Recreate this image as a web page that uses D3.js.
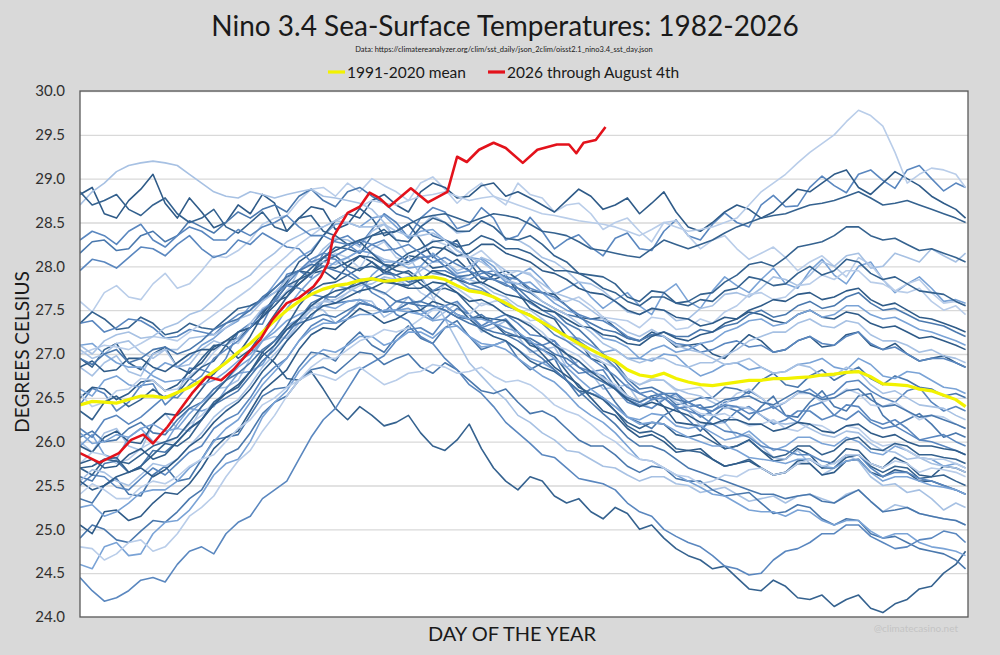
<!DOCTYPE html>
<html>
<head>
<meta charset="utf-8">
<script src="https://cdn.jsdelivr.net/npm/d3@7"></script>
<style>
  body { margin: 0; background: #d9d9d9; }
  svg { display: block; font-family: Lato, "Open Sans", sans-serif; }
</style>
</head>
<body>
<svg id="drawing_region"></svg>
<script>
// sample days (every 5 days + end of year)
const days = [1,6,11,16,21,26,31,36,41,46,51,56,61,66,71,76,81,86,91,96,101,106,111,116,121,126,131,136,141,146,151,156,161,166,171,176,181,186,191,196,201,206,211,216,221,226,231,236,241,246,251,256,261,266,271,276,281,286,291,296,301,306,311,316,321,326,331,336,341,346,351,356,361,365];

const years = [1982,1983,1984,1985,1986,1987,1988,1989,1990,1991,1992,1993,1994,1995,1996,1997,1998,1999,2000,2001,2002,2003,2004,2005,2006,2007,2008,2009,2010,2011,2012,2013,2014,2015,2016,2017,2018,2019,2020,2021,2022,2023,2024,2025];

// one row per year
const yearValues = [
  [26.42,26.61,26.55,26.35,26.45,26.64,26.66,26.42,26.55,26.84,26.82,26.77,26.95,27.25,27.35,27.34,27.62,27.91,27.95,27.87,28.15,28.30,28.35,28.24,28.42,28.60,28.50,28.33,28.55,28.67,28.62,28.43,28.48,28.67,28.55,28.30,28.35,28.56,28.40,28.20,28.30,28.36,28.22,28.12,28.32,28.38,28.20,28.18,28.40,28.53,28.35,28.30,28.48,28.61,28.50,28.45,28.70,28.81,28.68,28.69,28.90,29.03,28.92,28.84,29.05,29.10,28.98,28.89,29.10,29.15,29.00,28.86,28.95,28.90],
  [28.82,28.90,28.60,28.55,28.75,28.88,29.05,28.72,28.55,28.78,28.62,28.44,28.50,28.70,28.60,28.82,28.72,28.40,28.55,28.68,28.65,28.42,28.48,28.66,28.55,28.35,28.40,28.48,28.30,28.10,28.22,28.30,28.05,27.86,27.85,27.90,27.70,27.52,27.45,27.40,27.20,27.15,26.95,26.90,26.70,26.52,26.45,26.52,26.40,26.22,26.20,26.18,26.05,25.92,25.95,26.02,25.90,25.78,25.80,25.92,25.85,25.70,25.78,25.92,25.90,25.75,25.70,25.82,25.75,25.62,25.60,25.72,25.70,25.65],
  [26.00,25.88,26.10,26.15,25.95,25.90,26.20,26.32,26.15,26.12,26.40,26.60,26.62,26.70,26.95,27.15,27.20,27.18,27.35,27.55,27.50,27.35,27.45,27.62,27.60,27.42,27.50,27.65,27.55,27.38,27.48,27.58,27.45,27.25,27.30,27.38,27.20,27.02,27.05,27.08,26.85,26.92,26.78,26.60,26.62,26.65,26.45,26.38,26.50,26.52,26.35,26.18,26.20,26.22,26.05,26.08,25.95,25.82,25.80,25.90,25.75,25.62,25.70,25.85,25.78,25.60,25.50,25.52,25.42,25.45,25.35,25.22,25.30,25.25],
  [25.35,25.30,25.50,25.58,25.40,25.38,25.62,25.72,25.55,25.58,25.80,26.02,26.05,26.08,26.30,26.52,26.60,26.62,26.85,27.02,27.00,26.92,27.12,27.25,27.10,27.02,27.20,27.32,27.18,27.12,27.30,27.38,27.20,27.05,27.10,27.15,26.95,26.82,26.90,26.95,26.70,26.52,26.60,26.65,26.45,26.28,26.22,26.15,26.30,26.38,26.25,26.12,26.28,26.40,26.35,26.25,26.40,26.52,26.30,26.28,26.45,26.58,26.40,26.35,26.52,26.55,26.30,26.18,26.25,26.32,26.20,26.05,26.10,26.05],
  [25.95,26.08,25.85,25.80,26.05,26.15,26.00,25.98,26.20,26.38,26.35,26.40,26.60,26.78,26.80,26.88,27.10,27.32,27.40,27.42,27.60,27.78,27.75,27.70,27.90,28.02,27.85,27.78,28.00,28.15,28.05,27.92,27.95,28.10,28.00,27.82,27.90,27.98,27.85,27.68,27.75,27.82,27.65,27.52,27.62,27.70,27.55,27.45,27.70,27.80,27.60,27.52,27.72,27.88,27.78,27.70,27.85,27.98,27.80,27.75,27.95,28.08,27.90,27.80,28.00,28.05,27.85,27.70,27.80,27.88,27.75,27.60,27.62,27.58],
  [27.60,27.48,27.70,27.78,27.65,27.62,27.80,27.92,27.75,27.80,27.95,28.12,28.10,28.18,28.30,28.48,28.55,28.58,28.75,28.88,28.90,28.80,28.95,28.85,29.00,28.92,28.85,28.75,28.95,29.02,28.88,28.72,28.85,28.95,28.80,28.70,28.95,28.82,28.78,28.62,28.70,28.72,28.60,28.42,28.50,28.55,28.40,28.28,28.50,28.52,28.35,28.20,28.30,28.35,28.20,28.08,28.15,28.22,28.10,27.95,28.05,28.12,28.00,27.88,28.10,28.02,27.85,27.72,27.80,27.85,27.70,27.58,27.60,27.55],
  [26.95,26.85,27.05,27.12,26.90,26.82,27.00,27.08,26.85,26.78,26.95,27.10,27.10,26.95,27.05,27.02,26.90,26.72,26.70,26.80,26.60,26.38,26.25,26.40,26.30,26.18,26.22,26.30,26.10,25.95,25.90,26.02,26.20,25.92,25.70,25.55,25.45,25.60,25.55,25.38,25.30,25.35,25.20,25.12,25.25,25.18,25.00,25.05,24.90,24.78,24.70,24.65,24.55,24.58,24.45,24.32,24.30,24.42,24.35,24.22,24.20,24.25,24.12,24.20,24.25,24.10,24.05,24.15,24.20,24.32,24.35,24.50,24.60,24.75],
  [24.45,24.30,24.18,24.22,24.30,24.42,24.45,24.40,24.60,24.75,24.80,24.72,24.95,25.08,25.15,25.35,25.45,25.55,25.80,26.05,26.25,26.38,26.60,26.82,26.90,26.98,27.15,27.28,27.30,27.22,27.40,27.52,27.45,27.30,27.35,27.40,27.25,27.12,27.10,27.15,26.90,26.78,26.80,26.82,26.62,26.48,26.42,26.38,26.48,26.55,26.40,26.28,26.35,26.45,26.48,26.58,26.50,26.38,26.45,26.55,26.60,26.50,26.55,26.68,26.70,26.58,26.50,26.45,26.58,26.62,26.45,26.35,26.40,26.35],
  [26.50,26.62,26.60,26.48,26.55,26.68,26.70,26.58,26.65,26.80,26.90,27.08,27.15,27.18,27.30,27.48,27.60,27.65,27.80,27.92,27.95,27.85,28.00,28.12,28.05,27.92,28.00,28.12,28.10,27.98,28.00,28.08,27.95,27.80,27.90,27.95,27.85,27.72,27.70,27.68,27.55,27.42,27.40,27.42,27.30,27.18,27.15,27.25,27.20,27.08,27.10,27.12,27.00,26.95,27.10,27.22,27.15,27.02,27.05,27.15,27.20,27.08,27.10,27.22,27.25,27.10,27.05,27.12,27.00,26.92,26.95,26.98,26.90,26.85],
  [26.85,26.75,26.90,26.98,26.80,26.75,27.00,27.05,26.85,26.88,27.05,27.15,27.10,27.18,27.35,27.52,27.60,27.70,27.95,28.02,28.20,28.32,28.30,28.22,28.40,28.48,28.30,28.28,28.45,28.58,28.50,28.38,28.40,28.52,28.45,28.32,28.30,28.22,28.10,28.05,27.95,27.82,27.80,27.72,27.60,27.48,27.45,27.52,27.50,27.38,27.40,27.52,27.55,27.68,27.70,27.65,27.75,27.88,27.85,27.78,27.90,28.05,28.00,28.12,28.15,27.98,28.00,28.15,28.10,28.05,28.20,28.12,28.05,28.15],
  [28.15,28.28,28.30,28.18,28.20,28.35,28.40,28.28,28.35,28.52,28.45,28.38,28.50,28.62,28.55,28.65,28.70,28.62,28.80,28.88,28.75,28.68,28.85,28.90,28.80,28.72,28.60,28.55,28.45,28.35,28.30,28.25,28.10,27.95,27.90,27.88,27.75,27.62,27.55,27.48,27.35,27.28,27.15,27.00,26.90,26.72,26.60,26.62,26.55,26.42,26.45,26.50,26.50,26.62,26.60,26.55,26.70,26.78,26.65,26.62,26.75,26.82,26.70,26.78,26.85,26.72,26.65,26.75,26.70,26.62,26.60,26.52,26.55,26.50],
  [26.60,26.52,26.70,26.75,26.65,26.62,26.80,26.90,26.85,26.95,27.10,27.18,27.30,27.38,27.55,27.62,27.80,27.98,28.10,28.18,28.35,28.48,28.50,28.45,28.55,28.58,28.45,28.32,28.40,28.42,28.30,28.18,28.10,28.08,27.95,27.82,27.80,27.82,27.70,27.58,27.50,27.45,27.30,27.18,27.15,27.08,26.95,26.92,27.00,26.98,26.85,26.75,26.80,26.88,26.90,26.82,26.85,26.78,26.80,26.88,26.90,26.95,26.85,26.82,26.95,26.88,26.75,26.72,26.80,26.78,26.70,26.62,26.60,26.55],
  [26.55,26.40,26.45,26.58,26.60,26.72,26.70,26.58,26.60,26.75,26.85,27.02,27.15,27.12,27.30,27.45,27.55,27.72,27.85,27.90,28.05,28.15,28.10,27.98,28.20,28.28,28.10,28.05,28.15,28.30,28.25,28.12,28.10,28.18,28.05,27.90,27.95,27.92,27.75,27.62,27.60,27.65,27.55,27.42,27.40,27.38,27.30,27.42,27.40,27.28,27.30,27.40,27.35,27.48,27.55,27.68,27.70,27.62,27.65,27.78,27.80,27.90,27.85,27.95,27.95,27.82,27.80,27.72,27.70,27.75,27.60,27.50,27.55,27.45],
  [27.35,27.48,27.40,27.28,27.30,27.42,27.35,27.22,27.25,27.35,27.30,27.28,27.40,27.52,27.55,27.62,27.75,27.88,27.95,27.92,28.05,28.12,28.00,27.95,28.05,27.95,27.90,27.95,27.85,27.72,27.75,27.70,27.55,27.42,27.40,27.38,27.25,27.10,27.05,26.98,26.80,26.62,26.55,26.50,26.35,26.18,26.10,26.12,26.05,25.92,25.90,25.88,25.80,25.72,25.75,25.80,25.70,25.62,25.65,25.78,25.80,25.70,25.70,25.82,25.85,25.72,25.65,25.72,25.70,25.58,25.60,25.62,25.55,25.50],
  [25.50,25.62,25.60,25.48,25.45,25.58,25.70,25.62,25.75,25.88,25.95,26.15,26.25,26.32,26.50,26.72,26.85,26.95,27.15,27.32,27.40,27.35,27.45,27.58,27.55,27.48,27.60,27.65,27.50,27.40,27.55,27.60,27.45,27.32,27.40,27.45,27.35,27.22,27.20,27.15,27.00,26.85,26.80,26.75,26.60,26.45,26.40,26.48,26.50,26.38,26.40,26.42,26.30,26.22,26.35,26.40,26.30,26.20,26.25,26.35,26.35,26.25,26.30,26.42,26.40,26.25,26.20,26.25,26.15,26.02,26.05,26.08,26.00,25.95],
  [25.95,25.88,26.05,26.12,26.00,25.98,26.20,26.32,26.30,26.42,26.60,26.78,26.90,27.00,27.20,27.45,27.65,27.82,28.05,28.15,28.35,28.52,28.60,28.55,28.75,28.82,28.70,28.62,28.85,28.95,28.90,28.78,28.80,28.92,28.95,28.80,28.85,28.78,28.70,28.62,28.75,28.88,28.80,28.65,28.70,28.78,28.60,28.72,28.85,28.62,28.45,28.40,28.50,28.62,28.70,28.65,28.55,28.62,28.75,28.88,28.85,28.95,29.05,29.10,28.90,28.82,28.95,29.08,29.00,28.92,28.80,28.72,28.65,28.55],
  [28.70,28.85,28.95,29.08,29.15,29.18,29.20,29.18,29.15,29.05,28.95,28.85,28.80,28.78,28.85,28.82,28.78,28.82,28.85,28.88,28.80,28.78,28.75,28.72,28.65,28.50,28.30,28.12,27.90,27.65,27.40,27.15,26.90,26.75,26.60,26.48,26.30,26.22,26.10,26.02,25.90,25.88,25.80,25.72,25.70,25.62,25.55,25.60,25.60,25.52,25.50,25.42,25.45,25.48,25.40,25.32,25.35,25.38,25.30,25.38,25.40,25.35,25.30,25.40,25.45,25.32,25.20,25.28,25.25,25.18,25.15,25.12,25.10,25.05],
  [24.90,25.05,25.00,24.88,24.85,24.98,25.10,25.08,25.20,25.35,25.45,25.68,25.85,25.92,26.10,26.32,26.45,26.52,26.70,26.82,26.85,26.78,26.90,27.02,27.00,26.88,26.95,27.00,26.85,26.78,26.90,26.82,26.70,26.58,26.55,26.60,26.45,26.32,26.35,26.28,26.15,26.02,25.95,25.95,25.85,25.72,25.65,25.72,25.70,25.58,25.55,25.55,25.45,25.38,25.40,25.42,25.30,25.18,25.20,25.28,25.25,25.12,25.05,25.12,25.10,24.95,24.90,24.92,24.85,24.78,24.75,24.72,24.65,24.55],
  [24.60,24.55,24.80,24.85,24.70,24.72,24.95,25.08,25.10,25.22,25.40,25.62,25.75,25.80,26.00,26.28,26.45,26.58,26.80,26.95,27.05,27.02,27.10,27.20,27.20,27.10,27.15,27.25,27.25,27.18,27.30,27.32,27.20,27.08,27.10,27.15,27.05,26.95,26.90,26.82,26.70,26.58,26.55,26.50,26.40,26.28,26.25,26.32,26.30,26.18,26.15,26.18,26.10,26.02,26.05,26.12,26.00,25.90,25.95,26.05,26.05,25.98,25.95,26.05,26.00,25.88,25.85,25.95,25.90,25.82,25.80,25.72,25.75,25.70],
  [25.75,25.88,25.85,25.75,25.80,25.92,26.00,25.98,26.05,26.20,26.30,26.45,26.55,26.62,26.80,26.98,27.10,27.22,27.40,27.55,27.60,27.58,27.70,27.82,27.75,27.68,27.80,27.85,27.70,27.62,27.80,27.75,27.65,27.55,27.60,27.62,27.50,27.38,27.40,27.30,27.15,27.10,27.00,26.90,26.85,26.72,26.65,26.72,26.70,26.58,26.60,26.62,26.50,26.42,26.55,26.60,26.50,26.40,26.45,26.55,26.55,26.45,26.50,26.60,26.55,26.42,26.40,26.45,26.35,26.25,26.30,26.28,26.20,26.15],
  [26.35,26.25,26.45,26.52,26.40,26.48,26.60,26.50,26.55,26.72,26.85,26.92,27.10,27.25,27.30,27.42,27.60,27.78,27.85,27.92,28.10,28.22,28.20,28.15,28.35,28.42,28.30,28.28,28.45,28.55,28.50,28.40,28.40,28.52,28.45,28.32,28.30,28.35,28.25,28.12,28.05,27.92,27.90,27.88,27.80,27.65,27.60,27.72,27.70,27.58,27.55,27.62,27.60,27.72,27.75,27.88,27.85,27.78,27.80,27.92,28.00,27.90,27.95,28.08,28.05,27.92,27.85,27.88,27.80,27.72,27.70,27.68,27.60,27.55],
  [27.35,27.38,27.25,27.30,27.40,27.38,27.30,27.18,27.20,27.28,27.25,27.22,27.35,27.45,27.50,27.62,27.70,27.78,27.75,27.68,27.65,27.58,27.60,27.62,27.55,27.48,27.50,27.58,27.60,27.72,27.80,27.88,27.85,27.92,27.95,27.88,27.85,27.75,27.70,27.65,27.55,27.45,27.40,27.38,27.30,27.20,27.15,27.22,27.20,27.12,27.10,27.02,27.05,27.12,27.15,27.08,27.10,27.02,27.05,27.15,27.20,27.12,27.10,27.20,27.25,27.12,27.05,27.08,27.00,26.92,26.95,26.95,26.90,26.85],
  [26.85,26.92,26.80,26.82,26.95,26.95,26.85,26.80,26.90,27.00,27.05,27.05,27.15,27.25,27.30,27.42,27.55,27.70,27.80,27.92,28.00,27.98,28.05,28.12,28.10,28.02,28.00,28.05,28.15,28.22,28.20,28.12,28.15,28.25,28.25,28.15,28.10,28.05,27.95,27.92,27.85,27.75,27.70,27.68,27.60,27.50,27.45,27.52,27.50,27.42,27.40,27.32,27.35,27.42,27.40,27.48,27.45,27.38,27.35,27.45,27.50,27.42,27.40,27.48,27.45,27.35,27.30,27.32,27.25,27.18,27.20,27.15,27.10,27.05],
  [27.05,26.95,27.00,27.12,27.15,27.02,26.95,27.05,27.05,27.18,27.20,27.22,27.30,27.40,27.45,27.60,27.70,27.85,27.95,28.05,28.05,28.02,28.10,28.18,28.15,28.08,28.05,28.02,28.10,28.12,28.00,27.90,27.85,27.80,27.70,27.65,27.55,27.50,27.40,27.28,27.20,27.12,27.00,26.95,26.85,26.72,26.65,26.70,26.70,26.60,26.55,26.52,26.45,26.38,26.40,26.38,26.30,26.22,26.20,26.22,26.15,26.08,26.05,26.12,26.10,25.98,25.90,25.88,25.80,25.82,25.75,25.72,25.70,25.65],
  [25.60,25.55,25.75,25.78,25.65,25.72,25.90,25.88,26.00,26.15,26.25,26.42,26.50,26.58,26.75,26.92,27.05,27.22,27.40,27.58,27.65,27.65,27.75,27.85,27.85,27.92,27.90,27.82,27.85,27.95,27.95,27.88,27.90,27.95,27.85,27.78,27.75,27.70,27.60,27.52,27.45,27.42,27.35,27.28,27.25,27.18,27.15,27.22,27.25,27.20,27.20,27.28,27.25,27.32,27.35,27.45,27.50,27.42,27.45,27.55,27.60,27.52,27.55,27.65,27.70,27.58,27.50,27.52,27.45,27.38,27.35,27.32,27.25,27.20],
  [27.10,27.12,27.00,26.90,26.85,26.85,26.75,26.68,26.70,26.72,26.65,26.70,26.80,26.92,27.00,27.15,27.25,27.38,27.45,27.52,27.55,27.52,27.60,27.62,27.55,27.48,27.50,27.52,27.45,27.38,27.40,27.32,27.20,27.12,27.10,27.05,26.95,26.85,26.75,26.68,26.55,26.40,26.30,26.22,26.10,25.95,25.80,25.78,25.70,25.62,25.55,25.48,25.40,25.38,25.30,25.22,25.20,25.20,25.15,25.22,25.20,25.10,25.05,25.10,25.10,24.98,24.90,24.95,24.95,24.85,24.80,24.78,24.75,24.70],
  [24.80,24.78,24.65,24.72,24.85,24.88,24.75,24.80,24.95,25.15,25.25,25.38,25.60,25.78,25.90,26.12,26.30,26.52,26.70,26.85,26.95,26.95,27.05,27.15,27.20,27.28,27.25,27.30,27.40,27.50,27.50,27.42,27.45,27.58,27.55,27.45,27.40,27.35,27.25,27.10,27.05,26.98,26.85,26.72,26.65,26.52,26.45,26.52,26.55,26.45,26.40,26.32,26.30,26.32,26.25,26.18,26.20,26.25,26.15,26.12,26.20,26.18,26.10,26.18,26.15,26.02,25.95,25.98,25.90,25.82,25.80,25.80,25.75,25.70],
  [25.70,25.62,25.80,25.82,25.65,25.72,25.85,25.98,25.95,26.05,26.25,26.45,26.55,26.62,26.80,27.02,27.15,27.32,27.55,27.72,27.80,27.82,27.90,27.98,28.00,27.95,28.05,28.15,28.20,28.28,28.30,28.22,28.25,28.35,28.30,28.20,28.20,28.15,28.05,27.95,27.95,27.92,27.85,27.75,27.70,27.60,27.55,27.65,27.65,27.58,27.60,27.68,27.70,27.82,27.90,28.02,28.05,28.00,28.10,28.22,28.25,28.28,28.35,28.45,28.45,28.35,28.30,28.32,28.25,28.18,28.20,28.15,28.10,28.05],
  [27.95,28.08,28.05,27.98,28.10,28.22,28.20,28.12,28.25,28.35,28.20,28.10,28.15,28.30,28.25,28.38,28.30,28.22,28.20,28.05,28.10,28.08,27.95,27.85,27.70,27.62,27.45,27.38,27.20,27.12,26.95,26.82,26.65,26.55,26.40,26.22,26.10,25.98,25.85,25.82,25.70,25.58,25.55,25.52,25.45,25.30,25.20,25.15,25.00,24.92,24.85,24.80,24.70,24.58,24.55,24.48,24.50,24.65,24.75,24.78,24.85,24.95,24.95,25.05,25.05,24.92,24.85,24.78,24.80,24.88,24.90,24.98,24.95,24.85],
  [25.05,24.95,25.20,25.22,25.10,25.15,25.30,25.42,25.40,25.52,25.70,25.92,26.05,26.12,26.35,26.58,26.70,26.82,27.05,27.22,27.30,27.28,27.40,27.52,27.45,27.35,27.40,27.48,27.50,27.60,27.55,27.45,27.40,27.42,27.35,27.22,27.20,27.15,27.00,26.85,26.75,26.65,26.50,26.35,26.30,26.15,26.05,26.08,26.00,25.88,25.90,25.92,25.80,25.72,25.75,25.78,25.70,25.62,25.65,25.75,25.75,25.62,25.65,25.78,25.80,25.65,25.60,25.68,25.65,25.55,25.55,25.50,25.45,25.40],
  [25.55,25.68,25.65,25.55,25.50,25.62,25.75,25.72,25.80,25.95,26.10,26.28,26.40,26.48,26.65,26.85,27.00,27.15,27.35,27.50,27.60,27.62,27.70,27.78,27.80,27.88,27.85,27.88,27.95,28.05,28.05,27.95,28.00,28.10,28.05,27.95,27.95,27.90,27.80,27.70,27.65,27.60,27.50,27.40,27.35,27.25,27.20,27.28,27.20,27.10,27.05,27.02,26.95,26.88,26.90,26.95,26.85,26.78,26.80,26.88,26.85,26.75,26.75,26.85,26.80,26.65,26.55,26.58,26.50,26.42,26.40,26.38,26.30,26.25],
  [26.05,26.12,26.00,26.02,26.15,26.22,26.10,26.08,26.25,26.38,26.45,26.60,26.70,26.78,26.90,27.05,27.15,27.28,27.35,27.40,27.45,27.42,27.50,27.58,27.55,27.48,27.50,27.58,27.60,27.55,27.50,27.42,27.40,27.45,27.35,27.25,27.20,27.18,27.10,27.00,26.95,26.85,26.75,26.68,26.60,26.50,26.45,26.52,26.55,26.48,26.45,26.38,26.40,26.48,26.50,26.52,26.45,26.42,26.50,26.58,26.55,26.48,26.50,26.58,26.60,26.48,26.40,26.42,26.35,26.28,26.30,26.25,26.20,26.15],
  [26.10,25.98,26.00,26.08,26.05,26.15,26.20,26.12,26.15,26.32,26.45,26.55,26.70,26.85,26.95,27.15,27.30,27.52,27.70,27.85,27.95,28.05,28.10,28.18,28.15,28.05,28.05,27.98,28.00,27.92,27.90,27.85,27.75,27.72,27.65,27.55,27.50,27.45,27.35,27.30,27.20,27.18,27.10,27.02,27.05,26.95,26.95,27.05,27.10,27.02,27.05,27.12,27.15,27.25,27.30,27.38,27.40,27.32,27.35,27.45,27.50,27.42,27.45,27.55,27.55,27.45,27.40,27.42,27.35,27.28,27.25,27.20,27.15,27.10],
  [27.00,27.05,27.10,27.08,27.05,27.12,27.20,27.18,27.15,27.25,27.35,27.45,27.55,27.65,27.75,27.88,28.00,28.12,28.25,28.35,28.45,28.52,28.60,28.68,28.75,28.72,28.70,28.75,28.80,28.82,28.85,28.80,28.75,28.78,28.80,28.75,28.70,28.65,28.60,28.58,28.55,28.52,28.50,28.48,28.45,28.40,28.35,28.42,28.50,28.45,28.40,28.42,28.45,28.50,28.55,28.70,28.85,28.95,29.05,29.18,29.30,29.40,29.50,29.65,29.78,29.72,29.60,29.30,28.95,29.05,29.12,29.10,29.05,28.90],
  [28.85,28.70,28.75,28.82,28.65,28.58,28.70,28.78,28.60,28.50,28.55,28.65,28.45,28.38,28.50,28.62,28.45,28.40,28.55,28.58,28.40,28.35,28.25,28.28,28.15,28.02,27.95,27.92,27.80,27.70,27.60,27.55,27.40,27.28,27.20,27.15,27.05,26.92,26.85,26.80,26.70,26.58,26.55,26.48,26.35,26.22,26.15,26.22,26.20,26.08,26.05,26.08,26.00,25.92,25.95,26.02,25.90,25.82,25.85,25.95,25.95,25.85,25.90,26.02,26.05,25.92,25.90,25.98,25.95,25.85,25.85,25.82,25.80,25.75],
  [26.15,26.05,26.25,26.30,26.20,26.28,26.40,26.52,26.50,26.65,26.75,26.95,27.05,27.15,27.30,27.50,27.60,27.80,27.95,28.08,28.15,28.12,28.20,28.30,28.25,28.18,28.20,28.25,28.15,28.05,28.10,28.02,27.95,27.88,27.85,27.80,27.70,27.58,27.50,27.42,27.30,27.15,27.05,26.98,26.85,26.68,26.55,26.58,26.50,26.40,26.35,26.30,26.20,26.12,26.10,26.05,25.95,25.92,25.90,25.85,25.85,25.78,25.75,25.85,25.85,25.70,25.60,25.65,25.65,25.58,25.55,25.50,25.45,25.40],
  [25.55,25.45,25.50,25.60,25.65,25.70,25.60,25.68,25.80,25.95,26.05,26.22,26.35,26.45,26.60,26.80,26.95,27.15,27.30,27.45,27.55,27.58,27.65,27.72,27.75,27.82,27.80,27.78,27.85,27.95,27.90,27.85,27.80,27.82,27.75,27.68,27.65,27.60,27.50,27.48,27.40,27.32,27.30,27.22,27.20,27.12,27.10,27.20,27.25,27.18,27.15,27.22,27.25,27.35,27.40,27.50,27.55,27.62,27.60,27.68,27.70,27.62,27.65,27.72,27.75,27.62,27.55,27.58,27.50,27.42,27.40,27.35,27.30,27.25],
  [27.10,27.00,27.15,27.22,27.25,27.18,27.20,27.30,27.35,27.45,27.50,27.62,27.75,27.82,27.90,28.05,28.15,28.28,28.35,28.42,28.45,28.52,28.50,28.45,28.45,28.48,28.40,28.35,28.35,28.38,28.30,28.18,28.10,28.05,27.95,27.85,27.80,27.72,27.60,27.52,27.45,27.35,27.25,27.12,27.05,26.95,26.90,26.95,26.95,26.88,26.85,26.90,26.90,26.98,27.05,27.15,27.20,27.25,27.25,27.35,27.40,27.32,27.30,27.38,27.35,27.22,27.15,27.15,27.10,27.02,27.05,26.98,26.95,26.90],
  [26.95,26.88,27.00,27.05,26.90,26.95,27.05,27.08,27.00,27.05,27.15,27.28,27.35,27.40,27.50,27.65,27.75,27.88,27.95,28.02,28.00,27.95,27.90,27.82,27.75,27.70,27.60,27.58,27.55,27.55,27.50,27.42,27.35,27.30,27.25,27.22,27.15,27.05,26.95,26.82,26.70,26.58,26.45,26.32,26.20,26.05,25.95,25.95,25.90,25.80,25.70,25.65,25.60,25.55,25.50,25.45,25.40,25.40,25.35,25.38,25.40,25.32,25.30,25.38,25.45,25.32,25.20,25.22,25.25,25.18,25.15,25.12,25.10,25.05],
  [25.25,25.28,25.15,25.20,25.30,25.42,25.45,25.45,25.55,25.70,25.80,26.00,26.15,26.25,26.45,26.65,26.80,26.95,27.15,27.28,27.35,27.35,27.40,27.45,27.45,27.50,27.50,27.48,27.45,27.52,27.55,27.45,27.40,27.40,27.35,27.30,27.25,27.15,27.05,26.95,26.85,26.72,26.60,26.50,26.40,26.28,26.20,26.22,26.20,26.12,26.05,26.00,25.95,25.95,25.90,25.82,25.80,25.78,25.75,25.80,25.80,25.72,25.70,25.78,25.80,25.65,25.55,25.60,25.60,25.55,25.50,25.48,25.45,25.40],
  [25.40,25.52,25.45,25.35,25.35,25.48,25.55,25.52,25.60,25.72,25.80,25.85,26.00,26.15,26.25,26.42,26.50,26.62,26.70,26.78,26.75,26.70,26.80,26.85,26.75,26.65,26.70,26.78,26.80,26.88,26.85,26.78,26.80,26.85,26.75,26.68,26.70,26.65,26.55,26.42,26.35,26.30,26.20,26.08,26.00,25.88,25.80,25.78,25.70,25.62,25.60,25.52,25.55,25.62,25.60,25.68,25.70,25.62,25.65,25.75,25.80,25.72,25.75,25.85,25.85,25.75,25.70,25.78,25.75,25.65,25.70,25.68,25.65,25.60],
  [25.70,25.72,25.80,25.78,25.75,25.85,25.95,26.00,26.05,26.22,26.40,26.55,26.70,26.88,27.05,27.25,27.45,27.65,27.85,27.98,28.10,28.18,28.25,28.30,28.35,28.38,28.40,28.48,28.55,28.58,28.60,28.55,28.50,28.55,28.60,28.58,28.55,28.48,28.40,28.38,28.35,28.28,28.20,28.18,28.15,28.12,28.10,28.20,28.30,28.25,28.20,28.25,28.30,28.38,28.45,28.50,28.55,28.58,28.60,28.65,28.70,28.72,28.75,28.80,28.85,28.78,28.70,28.72,28.75,28.70,28.65,28.60,28.55,28.50],
  [28.30,28.40,28.35,28.25,28.40,28.48,28.30,28.22,28.35,28.45,28.40,28.30,28.30,28.42,28.35,28.45,28.50,28.58,28.45,28.35,28.35,28.28,28.25,28.15,28.25,28.30,28.15,28.05,28.10,28.12,28.00,27.88,27.80,27.75,27.65,27.55,27.50,27.45,27.35,27.22,27.15,27.05,26.95,26.85,26.75,26.62,26.55,26.48,26.55,26.55,26.45,26.38,26.35,26.42,26.40,26.32,26.35,26.40,26.30,26.22,26.40,26.45,26.30,26.25,26.35,26.22,26.15,26.18,26.10,26.02,26.00,25.95,25.90,25.85],
  [25.75,25.80,25.70,25.72,25.85,25.92,25.80,25.85,26.00,26.15,26.25,26.42,26.55,26.65,26.80,26.98,27.10,27.28,27.40,27.55,27.65,27.72,27.75,27.80,27.85,27.85,27.80,27.75,27.75,27.82,27.80,27.70,27.60,27.62,27.55,27.45,27.40,27.32,27.20,27.10,27.00,26.92,26.80,26.70,26.60,26.48,26.40,26.45,26.40,26.35,26.30,26.22,26.20,26.25,26.25,26.20,26.20,26.12,26.15,26.22,26.20,26.12,26.10,26.18,26.20,26.10,26.05,26.08,26.00,25.95,25.95,25.92,25.90,25.85]
];

// 1991-2020 mean
const meanValues = [26.42,26.46,26.45,26.44,26.48,26.52,26.52,26.50,26.56,26.62,26.70,26.80,26.90,27.02,27.12,27.25,27.38,27.50,27.60,27.68,27.74,27.78,27.80,27.84,27.86,27.83,27.84,27.86,27.87,27.88,27.85,27.78,27.72,27.70,27.65,27.58,27.50,27.44,27.36,27.28,27.20,27.12,27.05,26.98,26.92,26.82,26.76,26.74,26.78,26.72,26.68,26.65,26.64,26.66,26.68,26.70,26.70,26.72,26.72,26.73,26.74,26.76,26.77,26.79,26.80,26.74,26.66,26.65,26.64,26.60,26.58,26.53,26.48,26.40];

// 2026 through August 4th
const currentDays = [1,9,17,22,27,31,37,42,47,53,59,64,70,75,80,86,91,97,100,103,105,111,116,120,124,128,137,144,152,156,160,165,171,176,183,189,197,202,205,208,213,217];
const currentValues = [25.87,25.76,25.87,26.02,26.08,25.98,26.17,26.36,26.55,26.74,26.70,26.82,27.01,27.16,27.39,27.58,27.64,27.77,27.88,28.04,28.33,28.61,28.68,28.84,28.78,28.68,28.89,28.73,28.85,29.25,29.19,29.33,29.41,29.35,29.18,29.33,29.39,29.39,29.29,29.41,29.44,29.59];

const yTicks = [24.0,24.5,25.0,25.5,26.0,26.5,27.0,27.5,28.0,28.5,29.0,29.5,30.0];

const bluePalette = ["#5a87bf","#2f5b88","#a7c1e3","#4a78ad","#7aa3d6","#b9cde9","#35628f"];

class SSTChart {
    constructor( config ) {
        this.config = {
            parent: config.parent,
            width: config.width || 1000,
            height: config.height || 655,
            margin: config.margin || {top: 91, right: 32, bottom: 38, left: 80}
        }
        this.init();
    }

    init() {
        let self = this;
        const m = self.config.margin;

        self.inner_width = self.config.width - m.left - m.right;
        self.inner_height = self.config.height - m.top - m.bottom;

        self.svg = d3.select(self.config.parent)
            .attr('width', self.config.width)
            .attr('height', self.config.height);

        self.svg.append('rect')
            .attr('width', self.config.width)
            .attr('height', self.config.height)
            .attr('fill', '#d9d9d9');

        self.chart = self.svg.append('g')
            .attr('transform', `translate(${m.left}, ${m.top})`);

        self.xscale = d3.scaleLinear()
            .domain([1, 366])
            .range([0, self.inner_width]);
        self.yscale = d3.scaleLinear()
            .domain([24, 30])
            .range([self.inner_height, 0]);

        self.line = d3.line()
            .defined(d => d.value != null)
            .x(d => self.xscale(d.day))
            .y(d => self.yscale(d.value));
    }

    render() {
        let self = this;

        self.chart.append('rect')
            .attr('width', self.inner_width)
            .attr('height', self.inner_height)
            .attr('fill', '#ffffff');

        // gridlines
        self.chart.append('g')
            .call(d3.axisLeft(self.yscale).tickValues(yTicks).tickSize(-self.inner_width).tickFormat(''))
            .call(g => g.select('.domain').remove())
            .call(g => g.selectAll('line').attr('stroke', '#d9d9d9').attr('stroke-width', 1.4));

        // y labels
        self.chart.append('g')
            .call(d3.axisLeft(self.yscale).tickValues(yTicks).tickSize(0).tickPadding(15).tickFormat(d3.format('.1f')))
            .call(g => g.select('.domain').remove())
            .call(g => g.selectAll('text')
                .attr('font-family', 'Lato, "Open Sans", sans-serif')
                .attr('font-size', 15)
                .attr('fill', '#303030'));

        self.svg.append('clipPath').attr('id', 'plotclip')
            .append('rect').attr('width', self.inner_width).attr('height', self.inner_height);

        const lines = self.chart.append('g').attr('clip-path', 'url(#plotclip)');

        lines.selectAll('path.year')
            .data(years)
            .join('path')
            .attr('class', 'year')
            .attr('d', (y, i) => self.line(days.map((d, j) => ({day: d, value: yearValues[i][j]}))))
            .attr('fill', 'none')
            .attr('stroke', (y, i) => bluePalette[i % bluePalette.length])
            .attr('stroke-width', 1.6)
            .attr('stroke-linejoin', 'round');

        lines.append('path')
            .attr('d', self.line(days.map((d, j) => ({day: d, value: meanValues[j]}))))
            .attr('fill', 'none')
            .attr('stroke', '#f2f200')
            .attr('stroke-width', 3.2);

        lines.append('path')
            .attr('d', self.line(currentDays.map((d, j) => ({day: d, value: currentValues[j]}))))
            .attr('fill', 'none')
            .attr('stroke', '#e3121b')
            .attr('stroke-width', 2.6)
            .attr('stroke-linejoin', 'round');

        self.chart.append('rect')
            .attr('width', self.inner_width)
            .attr('height', self.inner_height)
            .attr('fill', 'none')
            .attr('stroke', '#595959')
            .attr('stroke-width', 1.3);

        // titles
        self.svg.append('text')
            .attr('x', 505).attr('y', 36)
            .attr('text-anchor', 'middle')
            .attr('font-size', 28)
            .attr('fill', '#1a1a1a')
            .text('Nino 3.4 Sea-Surface Temperatures: 1982-2026');

        self.svg.append('text')
            .attr('x', 504).attr('y', 52)
            .attr('text-anchor', 'middle')
            .attr('font-size', 7.5)
            .attr('fill', '#1a1a1a')
            .text('Data: https://climatereanalyzer.org/clim/sst_daily/json_2clim/oisst2.1_nino3.4_sst_day.json');

        // legend
        const legend = [
            {label: '1991-2020 mean', color: '#f2f200', x: 328},
            {label: '2026 through August 4th', color: '#e3121b', x: 488}
        ];
        const lg = self.svg.append('g').selectAll('g').data(legend).join('g')
            .attr('transform', d => `translate(${d.x}, 72)`);
        lg.append('line')
            .attr('x1', 0).attr('x2', 17).attr('y1', 0).attr('y2', 0)
            .attr('stroke', d => d.color).attr('stroke-width', 3.2);
        lg.append('text')
            .attr('x', 19).attr('y', 6)
            .attr('font-size', 15.5)
            .attr('fill', '#1a1a1a')
            .text(d => d.label);

        self.svg.append('text')
            .attr('transform', 'translate(29, 352) rotate(-90)')
            .attr('text-anchor', 'middle')
            .attr('font-size', 19)
            .attr('fill', '#1a1a1a')
            .text('DEGREES CELSIUS');

        self.svg.append('text')
            .attr('x', 512).attr('y', 641)
            .attr('text-anchor', 'middle')
            .attr('font-size', 20)
            .attr('fill', '#1a1a1a')
            .text('DAY OF THE YEAR');

        self.svg.append('text')
            .attr('x', 958).attr('y', 632)
            .attr('text-anchor', 'end')
            .attr('font-size', 10)
            .attr('fill', '#c4c4c4')
            .text('@climatecasino.net');
    }
}

const chart = new SSTChart({ parent: '#drawing_region', width: 1000, height: 655 });
chart.render();
</script>
</body>
</html>
